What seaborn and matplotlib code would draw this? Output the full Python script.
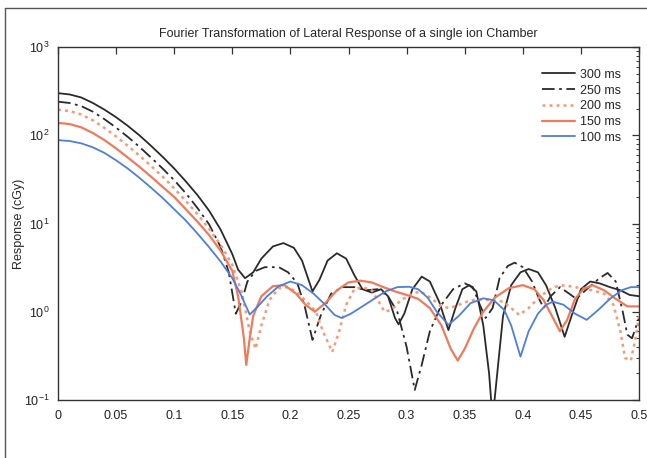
import numpy as np
import pandas as pd
import matplotlib
matplotlib.use("Agg")
import matplotlib.pyplot as plt
from matplotlib.lines import Line2D
from matplotlib.ticker import LogLocator, FixedLocator, NullFormatter
import seaborn as sns

title = "Fourier Transformation of Lateral Response of a single ion Chamber"
ylabel = "Response (cGy)"
series_names = ["300 ms", "250 ms", "200 ms", "150 ms", "100 ms"]
xticks = [0, 0.05, 0.1, 0.15, 0.2, 0.25, 0.3, 0.35, 0.4, 0.45, 0.5]
xticklabels = ["0", "0.05", "0.1", "0.15", "0.2", "0.25", "0.3", "0.35", "0.4", "0.45", "0.5"]

x300 = [0, 0.01, 0.02, 0.03, 0.04, 0.05, 0.06, 0.07, 0.08, 0.09, 0.1, 0.11, 0.12, 0.13, 0.14, 0.15, 0.155, 0.161,
        0.168, 0.175, 0.185, 0.194, 0.203, 0.21, 0.219, 0.225, 0.232, 0.240, 0.248, 0.255, 0.262, 0.27, 0.278, 0.284,
        0.29, 0.293, 0.298, 0.305, 0.313, 0.32, 0.328, 0.336, 0.342, 0.348, 0.354, 0.36, 0.366, 0.371, 0.374, 0.378,
        0.383, 0.39, 0.398, 0.405, 0.413, 0.42, 0.428, 0.436, 0.442, 0.45, 0.458, 0.466, 0.475, 0.484, 0.492, 0.5]
y300 = [300, 290, 268, 232, 195, 160, 128, 100, 76, 57, 42, 30, 21, 14, 8.5, 4.5, 3.0, 2.4,
        2.8, 4.0, 5.5, 6.0, 5.3, 3.8, 1.7, 2.3, 3.8, 4.6, 4.0, 2.6, 1.8, 1.65, 1.8, 1.5,
        0.85, 0.72, 0.95, 1.8, 2.5, 2.2, 1.3, 0.62, 1.1, 1.8, 2.0, 1.7, 0.7, 0.2, 0.06, 0.2,
        0.9, 2.0, 2.8, 3.05, 2.8, 2.0, 1.1, 0.52, 0.9, 1.8, 2.2, 2.1, 1.9, 1.75, 1.55, 1.5]

x250 = [0, 0.01, 0.02, 0.03, 0.04, 0.05, 0.06, 0.07, 0.08, 0.09, 0.1, 0.11, 0.12, 0.13, 0.14, 0.147, 0.153, 0.158,
        0.163, 0.17, 0.178, 0.19, 0.198, 0.206, 0.212, 0.219, 0.226, 0.235, 0.245, 0.255, 0.265, 0.275, 0.284,
        0.292, 0.3, 0.307, 0.313, 0.32, 0.33, 0.34, 0.35, 0.357, 0.363, 0.368, 0.374, 0.38, 0.387, 0.393, 0.4,
        0.408, 0.414, 0.418, 0.424, 0.432, 0.44, 0.446, 0.455, 0.466, 0.473, 0.48, 0.486, 0.49, 0.494, 0.5]
y250 = [240, 232, 214, 185, 152, 122, 96, 74, 56, 42, 31, 22, 15, 9.8, 5.4, 2.8, 0.95, 1.3,
        2.2, 2.9, 3.2, 3.2, 2.8, 2.1, 1.2, 0.48, 0.9, 1.6, 1.9, 1.9, 1.75, 1.8, 1.5,
        1.0, 0.4, 0.13, 0.25, 0.6, 1.2, 1.8, 2.1, 1.9, 1.2, 0.85, 1.1, 2.4, 3.3, 3.6, 3.2,
        2.2, 1.4, 1.1, 1.5, 1.9, 1.6, 1.4, 1.8, 2.4, 2.75, 2.2, 1.0, 0.55, 0.5, 0.85]

x200 = [0, 0.01, 0.02, 0.03, 0.04, 0.05, 0.06, 0.07, 0.08, 0.09, 0.1, 0.11, 0.12, 0.13, 0.14, 0.15, 0.158, 0.165,
        0.17, 0.175, 0.182, 0.19, 0.198, 0.206, 0.214, 0.222, 0.228, 0.236, 0.242, 0.248, 0.255, 0.262, 0.27,
        0.276, 0.281, 0.287, 0.295, 0.305, 0.312, 0.322, 0.33, 0.337, 0.345, 0.355, 0.365, 0.375, 0.383, 0.39,
        0.397, 0.405, 0.415, 0.425, 0.432, 0.44, 0.45, 0.46, 0.47, 0.478, 0.484, 0.488, 0.493, 0.497, 0.5]
y200 = [195, 188, 172, 148, 121, 97, 76, 59, 45, 34, 25, 18, 12.8, 8.7, 5.7, 3.4, 1.7, 0.6,
        0.38, 0.7, 1.36, 1.85, 1.9, 1.65, 1.3, 1.0, 0.6, 0.35, 0.6, 1.2, 1.8, 1.9, 1.75,
        1.3, 1.0, 1.05, 1.35, 1.6, 1.7, 1.4, 1.15, 1.1, 1.2, 1.35, 1.38, 1.35, 1.3, 1.1,
        0.92, 1.1, 1.5, 1.85, 2.0, 1.95, 1.85, 1.75, 1.6, 1.2, 0.6, 0.3, 0.28, 0.5, 0.9]

x150 = [0, 0.01, 0.02, 0.03, 0.04, 0.05, 0.06, 0.07, 0.08, 0.09, 0.1, 0.11, 0.12, 0.13, 0.14, 0.15, 0.155, 0.16,
        0.162, 0.165, 0.168, 0.175, 0.185, 0.195, 0.205, 0.213, 0.221, 0.23, 0.24, 0.25, 0.26, 0.27, 0.28, 0.29,
        0.3, 0.31, 0.32, 0.33, 0.338, 0.344, 0.35, 0.358, 0.366, 0.376, 0.388, 0.4, 0.41, 0.418, 0.426, 0.432,
        0.438, 0.445, 0.452, 0.46, 0.47, 0.48, 0.49, 0.5]
y150 = [138, 134, 123, 106, 88, 71, 56, 44, 34, 26, 20, 14.5, 10.5, 7.4, 4.9, 2.9, 1.5, 0.5,
        0.25, 0.5, 0.9, 1.5, 1.95, 2.0, 1.6, 1.2, 1.0, 1.25, 1.75, 2.15, 2.25, 2.15, 1.9, 1.7,
        1.55, 1.4, 1.1, 0.7, 0.38, 0.28, 0.38, 0.65, 1.0, 1.45, 1.85, 2.0, 1.8, 1.35, 0.85, 0.6,
        0.8, 1.4, 1.8, 2.0, 1.75, 1.4, 1.15, 1.15]

x100 = [0, 0.01, 0.02, 0.03, 0.04, 0.05, 0.06, 0.07, 0.08, 0.09, 0.1, 0.11, 0.12, 0.13, 0.14, 0.15, 0.157, 0.165,
        0.172, 0.18, 0.19, 0.2, 0.21, 0.22, 0.23, 0.238, 0.244, 0.252, 0.262, 0.272, 0.282, 0.292, 0.302, 0.31,
        0.318, 0.326, 0.336, 0.345, 0.355, 0.366, 0.375, 0.384, 0.39, 0.398, 0.405, 0.413, 0.42, 0.426, 0.435,
        0.445, 0.455, 0.465, 0.475, 0.485, 0.493, 0.5]
y100 = [88, 86, 81, 73, 63, 52, 42, 33, 25.5, 19.5, 14.5, 10.8, 7.7, 5.4, 3.7, 2.4, 1.6, 0.93,
        1.15, 1.5, 1.95, 2.2, 2.0, 1.6, 1.2, 0.92, 0.85, 0.95, 1.15, 1.4, 1.7, 1.9, 1.92, 1.8,
        1.45, 1.0, 0.71, 0.9, 1.25, 1.42, 1.35, 1.05, 0.7, 0.31, 0.6, 0.95, 1.2, 1.3, 1.2,
        0.95, 0.81, 1.05, 1.4, 1.75, 1.9, 1.9]

xs = [x300, x250, x200, x150, x100]
ys = [y300, y250, y200, y150, y100]

sns.set_style("white")
plt.rcParams['font.family'] = ['Liberation Sans', 'DejaVu Sans']
plt.rcParams['mathtext.default'] = 'regular'

fig = plt.figure(figsize=(6.47, 4.58), dpi=100)
ax = fig.add_axes([58 / 647, 1 - 400 / 458, (639 - 58) / 647, (400 - 47) / 458])

colors = ["#2a2a2a", "#2a2a2a", "#f59a78", "#ee7b5b", "#4d7fdb"]
styles = [(None, 1.3), ((0, (7, 2.5, 1.5, 2.5)), 1.3), ((0, (1.2, 1.6)), 1.8), (None, 1.6), (None, 1.3)]

for name, xv, yv, c, (ls, lw) in zip(series_names, xs, ys, colors, styles):
    df = pd.DataFrame({"x": xv, "y": yv})
    sns.lineplot(data=df, x="x", y="y", ax=ax, color=c, lw=lw, sort=False,
                 estimator=None, label=name)
    line = ax.get_lines()[-1]
    if ls is not None:
        line.set_linestyle(ls)

ax.set_yscale("log")
ax.set_xlim(0, 0.5)
ax.set_ylim(0.1, 1000)
ax.set_xticks(xticks)
ax.set_xticklabels(xticklabels)
ax.yaxis.set_major_locator(FixedLocator([0.1, 1, 10, 100, 1000]))
ax.set_yticklabels(["$10^{-1}$", "$10^{0}$", "$10^{1}$", "$10^{2}$", "$10^{3}$"])
ax.yaxis.set_minor_locator(LogLocator(base=10, subs=np.arange(2, 10), numticks=20))
ax.yaxis.set_minor_formatter(NullFormatter())
ax.tick_params(which="both", direction="in", top=True, right=True, colors="#333333", labelcolor="#222222")
ax.tick_params(which="major", length=5, width=0.9, labelsize=9)
ax.tick_params(which="minor", length=2.5, width=0.7)
ax.tick_params(axis="x", pad=7)
ax.tick_params(axis="y", pad=6)
for s in ax.spines.values():
    s.set_color("#333333")
    s.set_linewidth(1.0)
ax.set_xlabel("")
ax.set_ylabel(ylabel, fontsize=9)
ax.yaxis.set_label_coords(-0.056, 0.5)
ax.set_title(title, fontsize=9, pad=7)

leg = ax.legend(loc="upper right", bbox_to_anchor=(0.988, 0.97), frameon=False, fontsize=9,
                handlelength=2.6, handletextpad=0.4, labelspacing=0.3)

fig.add_artist(Line2D([5 / 647, 5 / 647], [0, 1 - 8 / 458], color="#555555", lw=1.0))
fig.add_artist(Line2D([5 / 647, 1], [1 - 8 / 458, 1 - 8 / 458], color="#555555", lw=1.0))

fig.savefig("out.png", dpi=100)
